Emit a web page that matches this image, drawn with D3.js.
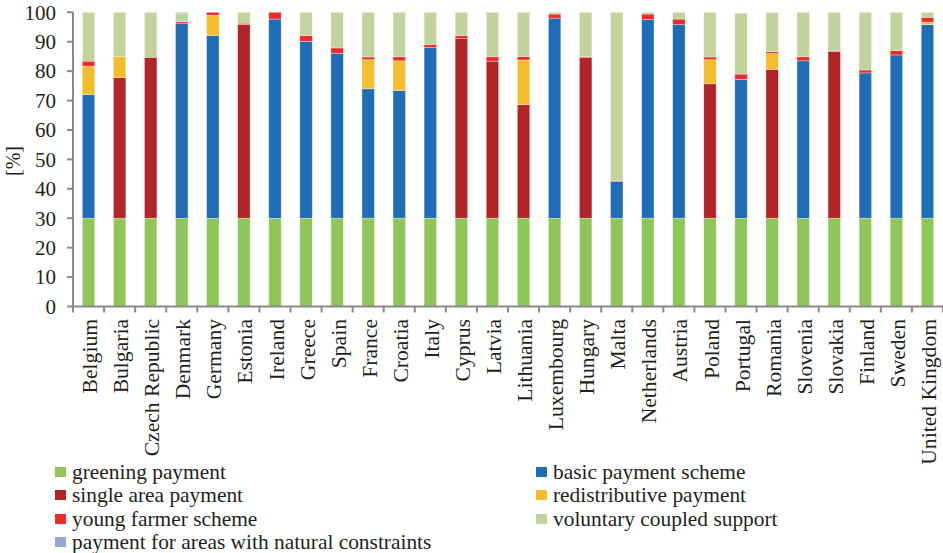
<!DOCTYPE html>
<html><head><meta charset="utf-8">
<script src="https://cdn.jsdelivr.net/npm/d3@7"></script>
<style>html,body{margin:0;padding:0;background:#fff;}svg{display:block;}</style>
</head><body>
<script>
const countries = ["Belgium","Bulgaria","Czech Republic","Denmark","Germany","Estonia","Ireland","Greece","Spain","France","Croatia","Italy","Cyprus","Latvia","Lithuania","Luxembourg","Hungary","Malta","Netherlands","Austria","Poland","Portugal","Romania","Slovenia","Slovakia","Finland","Sweden","United Kingdom"];
const greening      = [30,30,30,30,30,30,30,30,30,30,30,30,30,30,30,30,30,30,30,30,30,30,30,30,30,30,30,30];
const basicPayment  = [42.0,0,0,66.3,62.1,0,67.7,60.1,56.1,44.0,43.4,58.0,0,0,0,68.0,0,12.5,67.5,65.8,0,47.2,0,53.5,0,49.4,55.5,65.8];
const singleArea    = [0,47.8,54.7,0,0,65.9,0,0,0,0,0,0,61.1,53.4,38.6,0,54.7,0,0,0,45.7,0,50.6,0,56.7,0,0,0];
const redistributive= [9.7,7.1,0,0,6.9,0,0,0,0,9.9,10.1,0,0,0,15.2,0,0,0,0,0,8.2,0,5.4,0,0,0,0,0.9];
const youngFarmer   = [1.7,0,0,0.5,1.0,0.4,2.3,2.0,1.8,0.9,1.4,1.0,1.0,1.5,1.2,1.4,0.2,0.3,1.9,1.9,0.9,1.8,0.6,1.4,0.2,1.0,1.5,1.6];
const coupled       = [16.6,15.1,15.3,2.9,0,3.7,0,7.9,12.1,15.2,15.1,11.0,7.9,15.1,15.0,0.6,15.1,57.2,0.6,2.3,15.2,20.7,13.3,15.1,13.1,19.6,13.0,1.7];
const naturalConstr = [0,0,0,0.3,0,0,0,0,0,0,0,0,0,0,0,0,0,0,0,0,0,0,0,0,0,0,0,0];
const yTicks = [0,10,20,30,40,50,60,70,80,90,100];

const seriesNames = ["greening payment","basic payment scheme","single area payment","redistributive payment","young farmer scheme","voluntary coupled support","payment for areas with natural constraints"];
const seriesValues = [greening,basicPayment,singleArea,redistributive,youngFarmer,coupled,naturalConstr];
const colors = ["#8FC65A","#1F6EB5","#B22426","#F5BC2B","#EE2B2B","#C3D39D","#93A9CF"];

const W = 943, H = 553;
const txt = "#231F20", axisCol = "#8a8a8a";
const font = "'Liberation Serif', 'Times New Roman', serif";

const svg = d3.select("body").append("svg").attr("width", W).attr("height", H)
  .style("font-family", font);

const rows = countries.map((c, i) => {
  const r = {country: c};
  seriesNames.forEach((s, k) => r[s] = seriesValues[k][i]);
  return r;
});
const stack = d3.stack().keys(seriesNames)(rows);

const x = d3.scaleBand().domain(countries).range([73, 943]).paddingInner(0.6).paddingOuter(0.3);
const y = d3.scaleLinear().domain([0, 100]).range([306.5, 12.3]);

// bars
svg.append("g").selectAll("g").data(stack).join("g")
  .attr("fill", (d, i) => colors[i])
  .selectAll("rect").data(d => d.filter(p => p[1] - p[0] > 0)).join("rect")
  .attr("x", d => x(d.data.country))
  .attr("width", x.bandwidth())
  .attr("y", d => y(d[1]))
  .attr("height", d => y(d[0]) - y(d[1]))
  .attr("stroke", "#ffffff").attr("stroke-opacity", 0.45).attr("stroke-width", 0.7);

// y axis
const gy = svg.append("g");
gy.append("line").attr("x1", 73).attr("x2", 73).attr("y1", y(100)).attr("y2", y(0))
  .attr("stroke", axisCol).attr("stroke-width", 2);
gy.selectAll("line.t").data(yTicks).join("line").attr("class", "t")
  .attr("x1", 67).attr("x2", 73).attr("y1", d => y(d)).attr("y2", d => y(d))
  .attr("stroke", axisCol).attr("stroke-width", 2);
gy.selectAll("text").data(yTicks).join("text")
  .attr("x", 56).attr("y", d => y(d)).attr("dy", "0.35em")
  .attr("text-anchor", "end").attr("fill", txt).style("font-size", "21px")
  .text(d => d);

svg.append("text").attr("transform", "translate(20,161) rotate(-90)")
  .attr("text-anchor", "middle").attr("fill", txt).style("font-size", "20px").text("[%]");

// x axis
const gx = svg.append("g");
gx.append("line").attr("x1", 72).attr("x2", 943).attr("y1", y(0)).attr("y2", y(0))
  .attr("stroke", axisCol).attr("stroke-width", 2);
const bounds = countries.map(c => x(c) - x.step() * x.paddingInner() / 2);
bounds.push(x(countries[countries.length - 1]) + x.bandwidth() + x.step() * x.paddingInner() / 2);
gx.selectAll("line.t").data(bounds).join("line").attr("class", "t")
  .attr("x1", d => d).attr("x2", d => d).attr("y1", y(0)).attr("y2", y(0) + 6)
  .attr("stroke", axisCol).attr("stroke-width", 2);
gx.selectAll("text").data(countries).join("text")
  .attr("transform", d => `translate(${x(d) + x.bandwidth() / 2 + 1},319) rotate(-90)`)
  .attr("dy", "0.35em").attr("text-anchor", "end").attr("fill", txt)
  .style("font-size", "21.6px").text(d => d);

// legend
const legendPos = [[55, 472], [536, 472], [55, 495], [536, 495], [55, 519], [536, 519], [55, 542]];
const lg = svg.append("g").selectAll("g").data(seriesNames).join("g")
  .attr("transform", (d, i) => `translate(${legendPos[i][0]},${legendPos[i][1]})`);
lg.append("rect").attr("x", 0).attr("y", -5).attr("width", 11).attr("height", 10)
  .attr("fill", (d, i) => colors[i]);
lg.append("text").attr("x", 17).attr("y", 0).attr("dy", "0.33em").attr("fill", txt)
  .style("font-size", "21.4px").text(d => d);
</script>
</body></html>
